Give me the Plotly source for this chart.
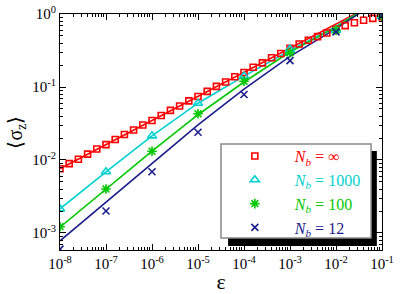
import plotly.graph_objects as go

# ---- data ----
eps_inf = [1e-8, 1.585e-8, 2.512e-8, 3.981e-8, 6.31e-8,
           1e-7, 1.585e-7, 2.512e-7, 3.981e-7, 6.31e-7,
           1e-6, 1.585e-6, 2.512e-6, 3.981e-6, 6.31e-6,
           1e-5, 1.585e-5, 2.512e-5, 3.981e-5, 6.31e-5,
           1e-4, 1.585e-4, 2.512e-4, 3.981e-4, 6.31e-4,
           1e-3, 1.585e-3, 2.512e-3, 3.981e-3, 6.31e-3,
           1e-2, 1.585e-2, 2.512e-2, 3.981e-2, 6.31e-2, 1e-1]
sig_inf = [0.00759, 0.00891, 0.01023, 0.01202, 0.01413,
           0.01622, 0.01905, 0.02239, 0.0257, 0.0302,
           0.0347, 0.0407, 0.0479, 0.0550, 0.0646,
           0.0741, 0.0871, 0.102, 0.117, 0.138,
           0.158, 0.186, 0.214, 0.251, 0.288,
           0.339, 0.389, 0.437, 0.490, 0.550,
           0.617, 0.692, 0.759, 0.822, 0.871, 0.912]

eps_dec = [1e-8, 1e-7, 1e-6, 1e-5, 1e-4, 1e-3, 1e-2, 1e-1]
sig_1000 = [0.00214, 0.0069, 0.0214, 0.060, 0.141, 0.33, 0.60, 0.93]
sig_100 = [0.00122, 0.0040, 0.0132, 0.043, 0.12, 0.295, 0.60, 0.93]
sig_12 = [0.00060, 0.0020, 0.0069, 0.024, 0.079, 0.23, 0.57, 0.94]

# theory curves
eps_line = [1e-8, 1e-7, 1e-6, 1e-5, 1e-4, 1e-3, 1e-2, 3.2e-2]
line_inf = [0.0076, 0.0162, 0.0347, 0.0741, 0.158, 0.339, 0.72, 1.07]
line_1000 = [0.00214, 0.0069, 0.0214, 0.060, 0.141, 0.316, 0.676, 1.05]
line_100 = [0.0012, 0.0040, 0.0132, 0.0417, 0.117, 0.302, 0.66, 1.05]
line_12 = [0.00078, 0.00263, 0.0089, 0.0302, 0.0933, 0.263, 0.631, 1.02]

x_tickvals = [1e-8, 1e-7, 1e-6, 1e-5, 1e-4, 1e-3, 1e-2, 1e-1]
x_ticktext = ["10<sup>-8</sup>", "10<sup>-7</sup>", "10<sup>-6</sup>", "10<sup>-5</sup>",
              "10<sup>-4</sup>", "10<sup>-3</sup>", "10<sup>-2</sup>", "10<sup>-1</sup>"]
y_tickvals = [1e-3, 1e-2, 1e-1, 1]
y_ticktext = ["10<sup>-3</sup>", "10<sup>-2</sup>", "10<sup>-1</sup>", "10<sup>0</sup>"]

RED = "#ff0000"
CYAN = "#00d0d0"
GREEN = "#00c800"
BLUE = "#1c1c8c"
FONT = "Liberation Serif"

fig = go.Figure()

series = [
    ("\u221e", eps_inf, sig_inf, eps_line, line_inf, RED, "square-open", 6),
    ("1000", eps_dec, sig_1000, eps_line, line_1000, CYAN, "triangle-up-open", 8),
    ("100", eps_dec, sig_100, eps_line, line_100, GREEN, "asterisk-open", 8),
    ("12", eps_dec, sig_12, eps_line, line_12, BLUE, "x-thin-open", 7),
]

for label, ex, sy, lx, ly, col, sym, size in series:
    fig.add_trace(go.Scatter(x=lx, y=ly, mode="lines", line=dict(color=col, width=1.6),
                             showlegend=False, hoverinfo="skip"))

PAD = "\u00a0" * 5
for label, ex, sy, lx, ly, col, sym, size in series:
    name = f"{PAD}<span style='color:{col}'><i>N<sub>b</sub></i> = {label}</span>"
    fig.add_trace(go.Scatter(x=ex, y=sy, mode="markers", name=name,
                             marker=dict(symbol=sym, size=size, color=col,
                                         line=dict(color=col, width=1.6))))

axis_common = dict(
    type="log", showline=True, linecolor="black", linewidth=1, mirror="allticks",
    ticks="inside", ticklen=6, tickcolor="black", tickwidth=1, showgrid=False, zeroline=False,
    automargin=False,
    tickfont=dict(family=FONT, size=15, color="black"),
    minor=dict(ticks="inside", ticklen=3, tickcolor="black", dtick="D1", showgrid=False),
)

fig.update_xaxes(range=[-8, -1], tickmode="array", tickvals=x_tickvals, ticktext=x_ticktext,
                 title=dict(text="\u03b5", font=dict(family=FONT, size=22, color="black"), standoff=2),
                 **axis_common)
fig.update_yaxes(range=[-3.233, 0], tickmode="array", tickvals=y_tickvals, ticktext=y_ticktext,
                 title=dict(text="\u27e8\u03c3<sub>z</sub>\u27e9", font=dict(family=FONT, size=20, color="black"), standoff=4),
                 **axis_common)

fig.update_layout(
    width=402, height=294,
    margin=dict(l=60, r=20, t=14, b=44),
    paper_bgcolor="white", plot_bgcolor="white",
    font=dict(family=FONT, size=16, color="black"),
    showlegend=True,
    legend=dict(x=0.543, y=0.47, xanchor="left", yanchor="top",
                bgcolor="rgba(0,0,0,0)", borderwidth=0, itemwidth=30,
                font=dict(family=FONT, size=16), tracegroupgap=0),
    shapes=[
        dict(type="rect", xref="paper", yref="paper", x0=0.522, x1=0.984, y0=0.017, y1=0.419,
             fillcolor="black", line=dict(width=0), layer="below"),
        dict(type="rect", xref="paper", yref="paper", x0=0.5, x1=0.966, y0=0.051, y1=0.449,
             fillcolor="white", line=dict(color="#888888", width=1.5), layer="below"),
    ],
)

fig.write_html("out.html", config={"displayModeBar": False},
               post_script="document.body.style.margin='0px';")
